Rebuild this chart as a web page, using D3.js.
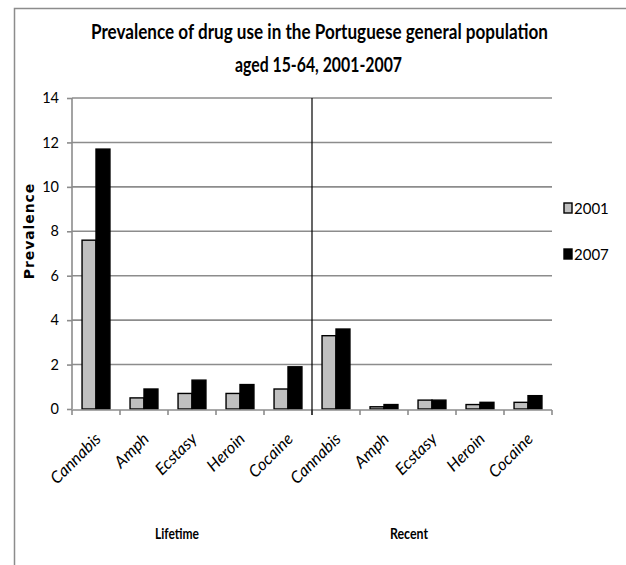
<!DOCTYPE html>
<html>
<head>
<meta charset="utf-8">
<script src="https://cdn.jsdelivr.net/npm/d3@7"></script>
<style>
  body { margin: 0; background: #fff; }
  svg { display: block; }
</style>
</head>
<body>
<div id="container"></div>
<script>
/* DATA */
const drugs = ["Cannabis", "Amph", "Ecstasy", "Heroin", "Cocaine",
               "Cannabis", "Amph", "Ecstasy", "Heroin", "Cocaine"];
const periods = ["Lifetime", "Recent"];
const years = ["2001", "2007"];
const values2001 = [7.6, 0.5, 0.7, 0.7, 0.9, 3.3, 0.1, 0.4, 0.2, 0.3];
const values2007 = [11.7, 0.9, 1.3, 1.1, 1.9, 3.6, 0.2, 0.4, 0.3, 0.6];
const yTicks = [0, 2, 4, 6, 8, 10, 12, 14];

/* CONSTANTS */
const width = 626,
      height = 565,
      plot = {left: 72, right: 552, top: 98, bottom: 409};

const body = "Lato, 'Open Sans', sans-serif";

const svg = d3.select("#container")
  .append("svg")
  .attr("width", width)
  .attr("height", height)

// outer frame (cut off on right and bottom)
svg.append("rect")
  .attr("x", 14.5).attr("y", 8.5)
  .attr("width", 700).attr("height", 700)
  .attr("fill", "none")
  .attr("stroke", "#8c8c8c")
  .attr("stroke-width", 1.5)

/* SCALES */
const x0 = d3.scaleBand()
  .domain(d3.range(drugs.length))
  .range([plot.left, plot.right])

const x1 = d3.scaleBand()
  .domain(years)
  .range([0, x0.bandwidth()])
  .paddingOuter(0.72)

const yScale = d3.scaleLinear()
  .domain([0, 14])
  .range([plot.bottom, plot.top])

const colors = d3.scaleOrdinal().domain(years).range(["#c0c0c0", "#000000"])

// gridlines
svg.append("g")
  .selectAll("line")
  .data(yTicks.filter(d => d > 0))
  .join("line")
  .attr("x1", plot.left).attr("x2", plot.right)
  .attr("y1", d => yScale(d)).attr("y2", d => yScale(d))
  .attr("stroke", "#8c8c8c")
  .attr("stroke-width", 1.6)

/* AXES */
const yAxis = svg.append("g")
  .attr("transform", `translate(${plot.left},0)`)
  .call(d3.axisLeft(yScale).tickValues(yTicks).tickSize(5).tickPadding(8))
yAxis.selectAll("line, path").attr("stroke", "#8c8c8c").attr("stroke-width", 1.6)
yAxis.select(".domain").attr("d", `M0,${plot.bottom}V${plot.top}`)
yAxis.selectAll("text")
  .attr("font-family", body)
  .attr("font-size", 14.5)
  .attr("fill", "#000")

svg.append("text")
  .attr("transform", "translate(34,231) rotate(-90)")
  .attr("text-anchor", "middle")
  .attr("font-family", "'DejaVu Sans', Verdana, sans-serif")
  .attr("font-weight", "bold")
  .attr("font-size", 14)
  .attr("letter-spacing", 0.9)
  .text("Prevalence")

/* BARS */
const series = [values2001, values2007]
const groups = svg.append("g")
  .selectAll("g")
  .data(years.map((y, i) => ({year: y, values: series[i]})))
  .join("g")
  .attr("fill", d => colors(d.year))

groups.selectAll("rect")
  .data(d => d.values.map((v, i) => ({year: d.year, i: i, v: v})))
  .join("rect")
  .attr("x", d => x0(d.i) + x1(d.year))
  .attr("y", d => yScale(d.v))
  .attr("width", x1.bandwidth())
  .attr("height", d => yScale(0) - yScale(d.v))
  .attr("stroke", "#000")
  .attr("stroke-width", 1.4)

// x axis line and ticks
const xAxis = svg.append("g")
xAxis.append("line")
  .attr("x1", plot.left).attr("x2", plot.right)
  .attr("y1", plot.bottom + 1).attr("y2", plot.bottom + 1)
  .attr("stroke", "#8c8c8c").attr("stroke-width", 1.6)
xAxis.selectAll(".tick")
  .data(d3.range(drugs.length + 1))
  .join("line")
  .attr("class", "tick")
  .attr("x1", i => i < drugs.length ? x0(i) : plot.right)
  .attr("x2", i => i < drugs.length ? x0(i) : plot.right)
  .attr("y1", plot.bottom + 1).attr("y2", plot.bottom + 6)
  .attr("stroke", "#8c8c8c").attr("stroke-width", 1.6)

// divider between lifetime and recent
svg.append("line")
  .attr("x1", x0(5)).attr("x2", x0(5))
  .attr("y1", plot.top).attr("y2", plot.bottom + 6)
  .attr("stroke", "#000").attr("stroke-width", 1.2)

// category labels
svg.append("g")
  .selectAll("text")
  .data(drugs)
  .join("text")
  .attr("transform", (d, i) => `translate(${x0(i) + x0.bandwidth() / 2 + 6},440) rotate(-45)`)
  .attr("text-anchor", "end")
  .attr("font-family", body)
  .attr("font-style", "italic")
  .attr("font-size", 16.5)
  .text(d => d)

// group labels (squeezed to the narrow bold face of the original)
const groupX = [177, 409],
      groupW = [44, 38]
svg.append("g")
  .selectAll("text")
  .data(periods)
  .join("text")
  .attr("x", (d, i) => groupX[i])
  .attr("y", 539)
  .attr("text-anchor", "middle")
  .attr("font-family", body)
  .attr("font-weight", "bold")
  .attr("font-size", 16)
  .attr("textLength", (d, i) => groupW[i])
  .attr("lengthAdjust", "spacingAndGlyphs")
  .text(d => d)

/* TITLE */
const titleLines = ["Prevalence of drug use in the Portuguese general population",
                    "aged 15-64, 2001-2007"]
const titleX = [319.5, 318.5],
      titleW = [457, 167]
svg.append("g")
  .selectAll("text")
  .data(titleLines)
  .join("text")
  .attr("x", (d, i) => titleX[i])
  .attr("y", (d, i) => 39 + i * 33)
  .attr("text-anchor", "middle")
  .attr("font-family", body)
  .attr("font-weight", "bold")
  .attr("font-size", 20)
  .attr("textLength", (d, i) => titleW[i])
  .attr("lengthAdjust", "spacingAndGlyphs")
  .text(d => d)

/* LEGEND */
const legend = svg.append("g")
  .selectAll("g")
  .data(years)
  .join("g")
  .attr("transform", (d, i) => `translate(564,${203 + i * 46})`)
legend.append("rect")
  .attr("width", 8).attr("height", 10)
  .attr("fill", d => colors(d))
  .attr("stroke", "#000").attr("stroke-width", 1.4)
legend.append("text")
  .attr("x", 10).attr("y", 11)
  .attr("font-family", body)
  .attr("font-size", 15)
  .text(d => d)
</script>
</body>
</html>
